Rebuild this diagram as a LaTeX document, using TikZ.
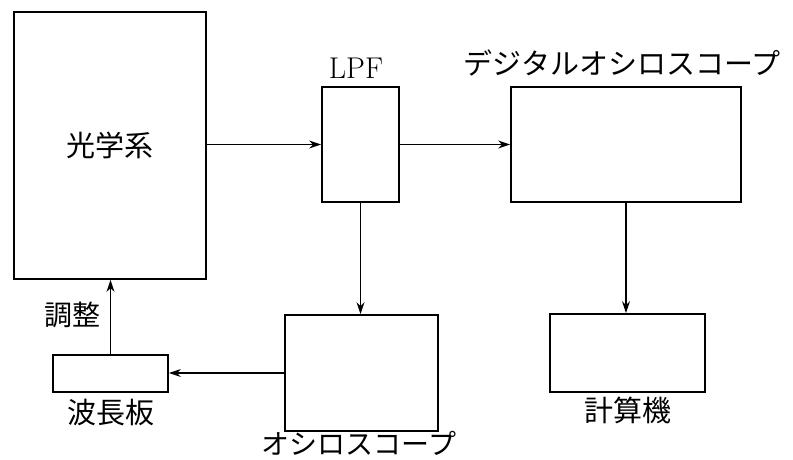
\documentclass[tikz,border=0pt]{standalone}
\usepackage{fontspec}
\newfontfamily\jp{Noto Sans CJK JP}
\usetikzlibrary{arrows.meta}
\tikzset{
  blk/.style={draw, line width=1.8pt, inner sep=0pt, anchor=center},
  conn/.style={line width=1.8pt, -{Stealth[length=12pt,width=8pt]}},
  lbl/.style={inner sep=0pt, anchor=center},
}
\begin{document}
\begin{tikzpicture}[x=1pt, y=-1pt]
\useasboundingbox (0,0) rectangle (793,459);
\node[blk, minimum width=192pt, minimum height=267pt, font=\jp\fontsize{29}{32}\selectfont] (opt) at (110,145.5) {光学系};
\node[blk, minimum width=77pt, minimum height=115pt] (lpf) at (360.5,144.5) {};
\node[blk, minimum width=230pt, minimum height=115pt] (dso) at (626,144.5) {};
\node[blk, minimum width=153pt, minimum height=116pt] (osc) at (361.5,373) {};
\node[blk, minimum width=155pt, minimum height=78pt] (pc) at (627.5,353) {};
\node[blk, minimum width=115pt, minimum height=37pt] (wp) at (110.5,373.5) {};

\node[lbl, font=\fontsize{30}{32}\selectfont] (lpfl) at (356,68) {LPF};
\node[lbl, font=\jp\fontsize{29}{32}\selectfont] (dsol) at (622,63) {デジタルオシロスコープ};
\node[lbl, font=\jp\fontsize{28}{30}\selectfont] (oscl) at (359,443) {オシロスコープ};
\node[lbl, font=\jp\fontsize{28}{32}\selectfont] (adj) at (73,315) {調整};
\node[lbl, font=\jp\fontsize{29}{32}\selectfont] (wpl) at (111,413) {波長板};
\node[lbl, font=\jp\fontsize{29}{32}\selectfont] (pcl) at (628,410) {計算機};

\draw[conn] (opt.east |- lpf.west) -- (lpf.west);
\draw[conn] (lpf.east) -- (dso.west);
\draw[conn] (lpf.south) -- (lpf.south |- osc.north);
\draw[conn] (dso.south) -- (dso.south |- pc.north);
\draw[conn] (osc.west) -- (wp.east |- osc.west);
\draw[conn] (wp.north) -- (wp.north |- opt.south);
\end{tikzpicture}
\end{document}
